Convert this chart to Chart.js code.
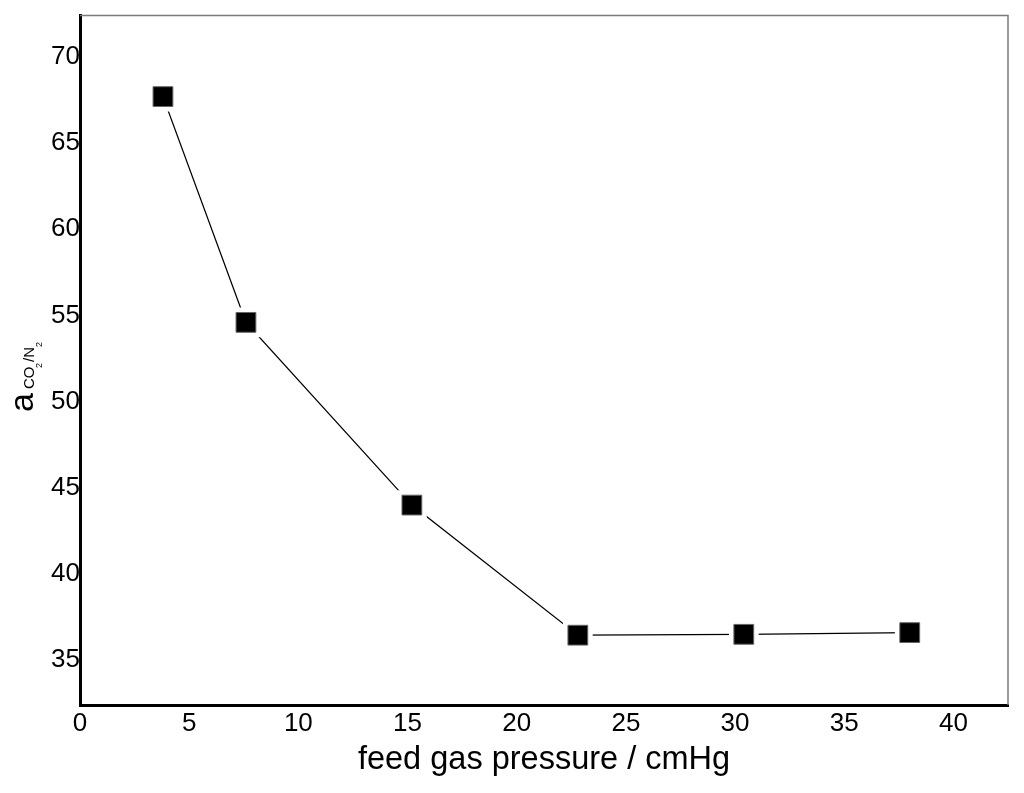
<!DOCTYPE html>
<html>
<head>
<meta charset="utf-8">
<script src="https://cdn.jsdelivr.net/npm/chart.js@4.4.0/dist/chart.umd.min.js"></script>
<style>
  html, body { margin: 0; padding: 0; background: #fff; }
  #chart { display: block; }
</style>
</head>
<body>
<canvas id="chart" width="1024" height="793"></canvas>
<script>
const pressure = [3.8, 7.6, 15.2, 22.8, 30.4, 38.0];
const selectivity = [67.7, 54.6, 44.0, 36.45, 36.5, 36.6];
const xTicks = [0, 5, 10, 15, 20, 25, 30, 35, 40];
const yTicks = [35, 40, 45, 50, 55, 60, 65, 70];

const FONT = 'Liberation Sans, Arial, sans-serif';
const points = pressure.map((x, i) => ({ x: x, y: selectivity[i] }));

const frame = {
  id: 'frame',
  afterDraw(chart) {
    const { ctx, chartArea: a } = chart;
    ctx.save();
    // thin grey top and right edges
    ctx.strokeStyle = '#7a7a7a';
    ctx.lineWidth = 1.5;
    ctx.beginPath();
    ctx.moveTo(a.left, a.top);
    ctx.lineTo(a.right, a.top);
    ctx.lineTo(a.right, a.bottom);
    ctx.stroke();

    // x title
    ctx.fillStyle = '#000';
    ctx.textAlign = 'center';
    ctx.textBaseline = 'alphabetic';
    ctx.font = '32.5px ' + FONT;
    ctx.fillText('feed gas pressure / cmHg', 544, 769);

    // y title: a CO2/N2, rotated
    ctx.rotate(-Math.PI / 2);
    ctx.textAlign = 'left';
    ctx.font = '34px ' + FONT;
    ctx.fillText('a', -412, 33);
    ctx.font = '15px ' + FONT;
    ctx.fillText('CO', -389, 34);
    ctx.fillText('/N', -362, 34);
    ctx.font = '9px ' + FONT;
    ctx.fillText('2', -368, 42);
    ctx.fillText('2', -347, 42);
    ctx.restore();
  }
};

new Chart(document.getElementById('chart'), {
  type: 'scatter',
  data: {
    datasets: [
      {
        data: points,
        showLine: false,
        pointStyle: 'rect',
        pointRadius: 14,
        pointBackgroundColor: '#000',
        pointBorderColor: '#666',
        pointBorderWidth: 1
      },
      {
        data: points,
        showLine: true,
        borderColor: '#000',
        borderWidth: 1.3,
        tension: 0,
        pointStyle: 'rect',
        pointRadius: 21,
        pointBackgroundColor: '#fff',
        pointBorderWidth: 0
      }
    ]
  },
  options: {
    responsive: false,
    devicePixelRatio: 1,
    animation: false,
    layout: { autoPadding: false, padding: { top: 15, right: 16, left: 0, bottom: 0 } },
    plugins: {
      legend: { display: false },
      tooltip: { enabled: false }
    },
    scales: {
      x: {
        type: 'linear',
        min: 0,
        max: 42.5,
        grid: { drawOnChartArea: false, drawTicks: false },
        border: { display: true, color: '#000', width: 3 },
        ticks: { color: '#000', font: { family: FONT, size: 26 }, padding: 3 },
        afterBuildTicks: (s) => { s.ticks = xTicks.map(v => ({ value: v })); },
        afterFit: (s) => { s.height = 88; }
      },
      y: {
        min: 32.4,
        max: 72.4,
        grid: { drawOnChartArea: false, drawTicks: false },
        border: { display: true, color: '#000', width: 3 },
        ticks: { color: '#000', font: { family: FONT, size: 26 }, padding: 0 },
        afterBuildTicks: (s) => { s.ticks = yTicks.map(v => ({ value: v })); },
        afterFit: (s) => { s.width = 80; }
      }
    }
  },
  plugins: [frame]
});
</script>
</body>
</html>
